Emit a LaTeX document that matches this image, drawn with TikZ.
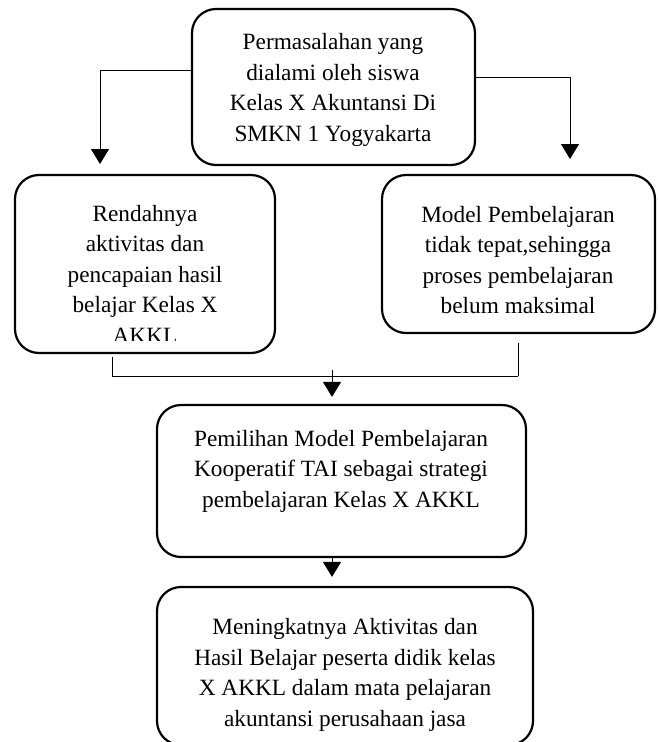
\documentclass[tikz,border=0pt]{standalone}
\usepackage{fontspec}
\setmainfont{Liberation Serif}
\usetikzlibrary{arrows.meta}
\begin{document}
\begin{tikzpicture}[x=1pt,y=-1pt,
 box/.style={draw, line width=2.2pt, rounded corners=24pt, inner sep=0pt},
 txt/.style={align=center, font=\fontsize{23.3}{30.5}\selectfont, inner sep=0pt},
 conn/.style={line width=1pt},
 arr/.style={line width=1pt, -{Triangle[length=15pt,width=18pt]}}]
\useasboundingbox (0,0) rectangle (658,742);
% boxes
\node[box, minimum width=283pt, minimum height=156pt] (T) at (333.5,87) {};
\node[box, minimum width=260pt, minimum height=178pt] (L) at (145,264) {};
\node[box, minimum width=273pt, minimum height=158pt] (R) at (518.5,254) {};
\node[box, minimum width=369pt, minimum height=152pt] (M) at (341.5,481) {};
\node[box, minimum width=376pt, minimum height=158pt] (B) at (345,666) {};
% texts
\node[txt] (Tt) at (333,90) {Permasalahan yang\\dialami oleh siswa\\Kelas X Akuntansi Di\\SMKN 1 Yogyakarta};
\begin{scope}
\clip (15,175) rectangle (275,340);
\node[txt] (Lt) at (145,274) {Rendahnya\\aktivitas dan\\pencapaian hasil\\belajar Kelas X\\AKKL};
\end{scope}
\node[txt] (Rt) at (518,260) {Model Pembelajaran\\tidak tepat,sehingga\\proses pembelajaran\\belum maksimal};
\node[txt] (Mt) at (341,471) {Pemilihan Model Pembelajaran\\Kooperatif TAI sebagai strategi\\pembelajaran Kelas X AKKL};
\node[txt] (Bt) at (345,675) {Meningkatnya Aktivitas dan\\Hasil Belajar peserta didik kelas\\X AKKL dalam mata pelajaran\\akuntansi perusahaan jasa};
% connectors
\coordinate (a1) at (100,164);
\coordinate (a2) at (570,159);
\draw[arr] ([yshift=17pt]T.west) -| (a1);
\draw[arr] ([yshift=10pt]T.east) -| (a2);
\coordinate (b1) at (112,357);
\coordinate (b2) at (518,343);
\coordinate (b3) at (518,376);
\coordinate (j) at (332,370);
\draw[conn] (b1) |- (b3);
\draw[conn] (b2) -- (b3);
\draw[arr, shorten >=7pt] (j) -- (j |- M.north);
\draw[arr, shorten >=9pt] (j |- M.south) -- (j |- B.north);
\end{tikzpicture}
\end{document}
